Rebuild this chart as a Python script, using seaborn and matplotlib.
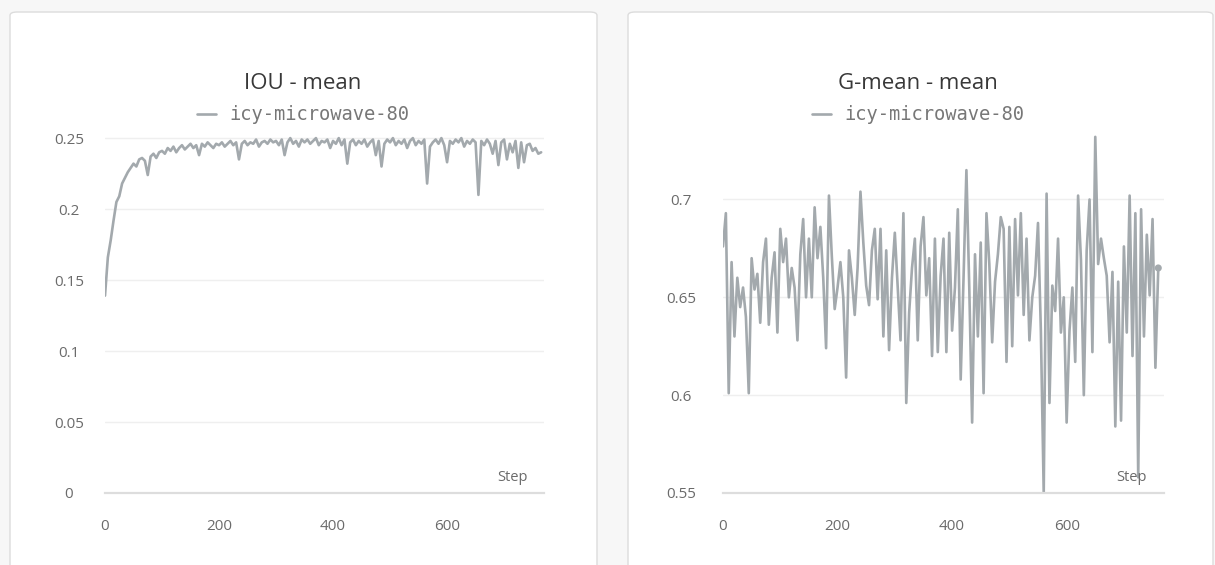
import matplotlib
matplotlib.use("Agg")
import matplotlib.pyplot as plt
from matplotlib.patches import FancyBboxPatch
import pandas as pd
import seaborn as sns

# run shown in both panels
run_name = "icy-microwave-80"

# IOU - mean, one value every 5 steps
iou_steps = list(range(0, 770, 5))
iou_mean = [
    0.139, 0.166, 0.178, 0.192, 0.205, 0.209, 0.218, 0.222, 0.226, 0.229,
    0.232, 0.230, 0.235, 0.236, 0.234, 0.224, 0.237, 0.239, 0.236, 0.240,
    0.241, 0.239, 0.243, 0.241, 0.244, 0.240, 0.243, 0.245, 0.242, 0.244,
    0.246, 0.243, 0.245, 0.238, 0.246, 0.244, 0.247, 0.245, 0.243, 0.246,
    0.245, 0.247, 0.244, 0.246, 0.248, 0.245, 0.247, 0.235, 0.246, 0.248,
    0.245, 0.247, 0.246, 0.249, 0.244, 0.247, 0.248, 0.246, 0.249, 0.247,
    0.248, 0.245, 0.249, 0.238, 0.247, 0.250, 0.246, 0.248, 0.244, 0.249,
    0.247, 0.249, 0.246, 0.248, 0.250, 0.245, 0.248, 0.247, 0.249, 0.243,
    0.248, 0.246, 0.250, 0.245, 0.249, 0.232, 0.247, 0.249, 0.245, 0.248,
    0.246, 0.249, 0.244, 0.247, 0.249, 0.238, 0.248, 0.230, 0.246, 0.249,
    0.247, 0.250, 0.245, 0.248, 0.246, 0.249, 0.243, 0.248, 0.250, 0.245,
    0.248, 0.246, 0.249, 0.218, 0.244, 0.247, 0.249, 0.246, 0.250, 0.245,
    0.233, 0.248, 0.246, 0.249, 0.247, 0.250, 0.244, 0.248, 0.246, 0.249,
    0.247, 0.210, 0.248, 0.245, 0.249, 0.246, 0.239, 0.248, 0.231, 0.247,
    0.249, 0.235, 0.246, 0.240, 0.248, 0.229, 0.247, 0.233, 0.245, 0.246,
    0.241, 0.243, 0.239, 0.240,
]

# G-mean - mean, one value every 5 steps
gmean_steps = list(range(0, 765, 5))
gmean_mean = [
    0.676, 0.693, 0.601, 0.668, 0.630, 0.660, 0.645, 0.655, 0.640, 0.601,
    0.670, 0.654, 0.662, 0.637, 0.668, 0.680, 0.636, 0.660, 0.673, 0.632,
    0.685, 0.668, 0.680, 0.650, 0.665, 0.655, 0.628, 0.672, 0.690, 0.650,
    0.680, 0.650, 0.696, 0.670, 0.686, 0.660, 0.624, 0.702, 0.671, 0.644,
    0.655, 0.668, 0.650, 0.609, 0.674, 0.660, 0.641, 0.665, 0.704, 0.678,
    0.656, 0.646, 0.674, 0.685, 0.649, 0.685, 0.630, 0.674, 0.623, 0.660,
    0.683, 0.655, 0.628, 0.693, 0.596, 0.642, 0.665, 0.680, 0.628, 0.676,
    0.691, 0.651, 0.670, 0.620, 0.680, 0.622, 0.661, 0.680, 0.622, 0.683,
    0.633, 0.655, 0.695, 0.608, 0.660, 0.715, 0.655, 0.586, 0.672, 0.630,
    0.678, 0.601, 0.693, 0.667, 0.627, 0.658, 0.672, 0.691, 0.685, 0.617,
    0.686, 0.625, 0.690, 0.651, 0.693, 0.641, 0.680, 0.628, 0.650, 0.661,
    0.688, 0.633, 0.550, 0.703, 0.596, 0.656, 0.643, 0.680, 0.632, 0.650,
    0.586, 0.633, 0.655, 0.617, 0.702, 0.669, 0.600, 0.674, 0.700, 0.622,
    0.732, 0.667, 0.680, 0.670, 0.661, 0.627, 0.663, 0.584, 0.658, 0.587,
    0.676, 0.632, 0.702, 0.620, 0.693, 0.558, 0.695, 0.630, 0.682, 0.651,
    0.690, 0.614, 0.665,
]

xticks = [0, 200, 400, 600]
iou_yticks = [0, 0.05, 0.1, 0.15, 0.2, 0.25]
iou_ylabels = ["0", "0.05", "0.1", "0.15", "0.2", "0.25"]
gmean_yticks = [0.55, 0.6, 0.65, 0.7]
gmean_ylabels = ["0.55", "0.6", "0.65", "0.7"]

LINE = "#a3a9ad"
W, H = 1215, 565

sns.set_style("white")
plt.rcParams["font.family"] = ["Open Sans", "DejaVu Sans"]

fig = plt.figure(figsize=(W / 100, H / 100), dpi=100, facecolor="#f7f7f7")

# white panel cards, kept behind the axes
for x0, x1 in [(10, 597), (628, 1213)]:
    card = FancyBboxPatch((x0 / W, -0.05), (x1 - x0) / W, 1 - 12 / H + 0.05,
                          boxstyle="round,pad=0,rounding_size=0.006",
                          transform=fig.transFigure, facecolor="white",
                          edgecolor="#dcdcdc", linewidth=1.0, zorder=-10)
    fig.patches.append(card)


def panel(px_left, px_right, card_mid, steps, values, title, yticks, ylabels,
          ylim, ypad, end_dot=False):
    top, bottom = 131, 493
    ax = fig.add_axes([px_left / W, 1 - bottom / H, (px_right - px_left) / W,
                       (bottom - top) / H])
    ax.set_facecolor("none")
    df = pd.DataFrame({"Step": steps, "value": values})
    sns.lineplot(data=df, x="Step", y="value", ax=ax, color=LINE,
                 linewidth=1.9, label=run_name)
    if end_dot:
        sns.scatterplot(x=[steps[-1]], y=[values[-1]], ax=ax, color=LINE,
                        s=26, edgecolor="none", legend=False)
    ax.set_xlim(0, 770)
    ax.set_ylim(*ylim)
    ax.set_xticks(xticks)
    ax.set_yticks(yticks, ylabels)
    ax.set_xlabel("")
    ax.set_ylabel("")
    for s in ["top", "right", "left"]:
        ax.spines[s].set_visible(False)
    ax.spines["bottom"].set_color("#dddddd")
    ax.spines["bottom"].set_linewidth(1.6)
    ax.yaxis.grid(True, color="#efefef", linewidth=1.0)
    ax.tick_params(axis="x", direction="inout", length=14, width=1.0,
                   color="#d4d4d4", labelcolor="#6b6b6b", labelsize=11, pad=12)
    ax.tick_params(axis="y", length=0, labelcolor="#6b6b6b", labelsize=11,
                   pad=ypad)
    for lab in ax.get_yticklabels():
        lab.set_horizontalalignment("center")
    ax.text(0.962, 0.042, "Step", transform=ax.transAxes, ha="right",
            va="center", fontsize=10.5, color="#6b6b6b")
    mid = (card_mid - px_left) / (px_right - px_left)
    ax.text(mid, 1.13, title, transform=ax.transAxes, ha="center",
            va="center", fontsize=16, color="#383838")
    ax.legend(loc="center", bbox_to_anchor=(mid, 1.045), frameon=False,
              handlelength=1.0, handletextpad=0.7, labelcolor="#777777",
              prop={"family": "DejaVu Sans Mono", "size": 13.5})
    return ax


panel(105, 544, 303, iou_steps, iou_mean, "IOU - mean", iou_yticks,
      iou_ylabels, (0, 0.255), 26)
panel(723, 1164, 918, gmean_steps, gmean_mean, "G-mean - mean", gmean_yticks,
      gmean_ylabels, (0.55, 0.735), 30, end_dot=True)

fig.savefig("out.png", dpi=100, facecolor=fig.get_facecolor())
